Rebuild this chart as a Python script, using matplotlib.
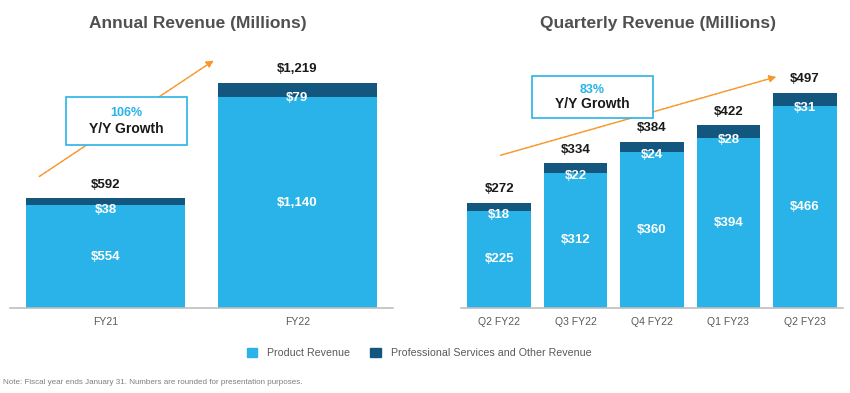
import matplotlib.pyplot as plt
from matplotlib.patches import Patch, Rectangle, FancyArrowPatch

plt.rcParams['font.family'] = ['Liberation Sans', 'DejaVu Sans']

# annual data
years = ["FY21", "FY22"]
annual_product = [554, 1140]
annual_services = [38, 79]
annual_totals = ["$592", "$1,219"]

# quarterly data
quarters = ["Q2 FY22", "Q3 FY22", "Q4 FY22", "Q1 FY23", "Q2 FY23"]
q_product = [225, 312, 360, 394, 466]
q_services = [18, 22, 24, 28, 31]
q_totals = ["$272", "$334", "$384", "$422", "$497"]

LIGHT = "#29b3e8"
DARK = "#13577f"
GRAY = "#595959"
ORANGE = "#f7982d"

W, H = 850, 393
fig = plt.figure(figsize=(8.5, 3.93), dpi=100)


def fx(x):
    return x / W


def fy(y):
    return 1 - y / H


def money(v):
    return "${:,}".format(v)


def draw_stack(ax, cats, prod, serv, totals, width):
    x = list(range(len(cats)))
    ax.bar(x, prod, width, color=LIGHT)
    ax.bar(x, serv, width, bottom=prod, color=DARK)
    for i in x:
        p, s = prod[i], serv[i]
        ax.text(i, p / 2, money(p), ha="center", va="center", color="white",
                fontsize=9.5, fontweight="bold")
        ax.annotate(money(s), (i, p + s / 2), xytext=(0, -5.8), textcoords="offset points",
                    ha="center", va="center", color="white", fontsize=9.5, fontweight="bold")
        ax.annotate(totals[i], (i, p + s), xytext=(0, 10), textcoords="offset points",
                    ha="center", va="center", color="#1a1a1a", fontsize=9.5, fontweight="bold")
    ax.set_xticks(x)
    ax.set_xticklabels(cats)
    ax.set_xlim(-0.5, len(cats) - 0.5)
    ax.set_yticks([])
    for sp in ["top", "right", "left"]:
        ax.spines[sp].set_visible(False)
    ax.spines["bottom"].set_color("#bfbfbf")
    ax.spines["bottom"].set_linewidth(1.2)
    ax.tick_params(axis="x", length=0, pad=7, labelsize=7.5, labelcolor=GRAY)


bottom = fy(307.7)
height = (307.7 - 40) / H
ax1 = fig.add_axes([fx(10), bottom, 383 / W, height])
ax2 = fig.add_axes([fx(461), bottom, 382 / W, height])

draw_stack(ax1, years, annual_product, annual_services, annual_totals, 0.83)
ax1.set_ylim(0, 1451)
draw_stack(ax2, quarters, q_product, q_services, q_totals, 0.834)
ax2.set_ylim(0, 620)

# titles
fig.text(fx(198), fy(27.7), "Annual Revenue (Millions)", ha="center", va="baseline",
         fontsize=12.5, fontweight="bold", color="#505050")
fig.text(fx(658), fy(27.7), "Quarterly Revenue (Millions)", ha="center", va="baseline",
         fontsize=12.5, fontweight="bold", color="#505050")


# growth arrows and boxes
def growth(start, end, box, pct):
    arr = FancyArrowPatch((fx(start[0]), fy(start[1])), (fx(end[0]), fy(end[1])),
                          transform=fig.transFigure, arrowstyle="-|>", mutation_scale=10,
                          color=ORANGE, lw=1.1, linestyle=(0, (2.5, 0.8)), zorder=3)
    fig.add_artist(arr)
    x0, y0, x1, y1 = box
    rect = Rectangle((fx(x0), fy(y1)), (x1 - x0) / W, (y1 - y0) / H, transform=fig.transFigure,
                     facecolor="white", edgecolor=LIGHT, lw=1.2, zorder=4)
    fig.add_artist(rect)
    cx = (x0 + x1) / 2
    fig.text(fx(cx), fy(y0 + (y1 - y0) * 0.33), pct, ha="center", va="center",
             fontsize=9, fontweight="bold", color=LIGHT, zorder=5)
    fig.text(fx(cx), fy(y0 + (y1 - y0) * 0.67), "Y/Y Growth", ha="center", va="center",
             fontsize=10, fontweight="semibold", color="#1a1a1a", zorder=5)


growth((37, 178), (216, 59), (66, 97, 187, 145), "106%")
growth((498, 156), (779, 76), (532, 76, 653, 118), "83%")

# legend
handles = [Patch(color=LIGHT, label="Product Revenue"),
           Patch(color=DARK, label="Professional Services and Other Revenue")]
fig.legend(handles=handles, loc="center", bbox_to_anchor=(fx(419), fy(353)), ncol=2,
           frameon=False, fontsize=7.7, handlelength=1.0, handleheight=1.0,
           handletextpad=0.9, columnspacing=1.9, labelcolor=GRAY)

fig.text(fx(3), fy(383), "Note: Fiscal year ends January 31. Numbers are rounded for presentation purposes.",
         ha="left", va="center", fontsize=5.8, color="#7f7f7f")

fig.savefig("out.png", dpi=100)
